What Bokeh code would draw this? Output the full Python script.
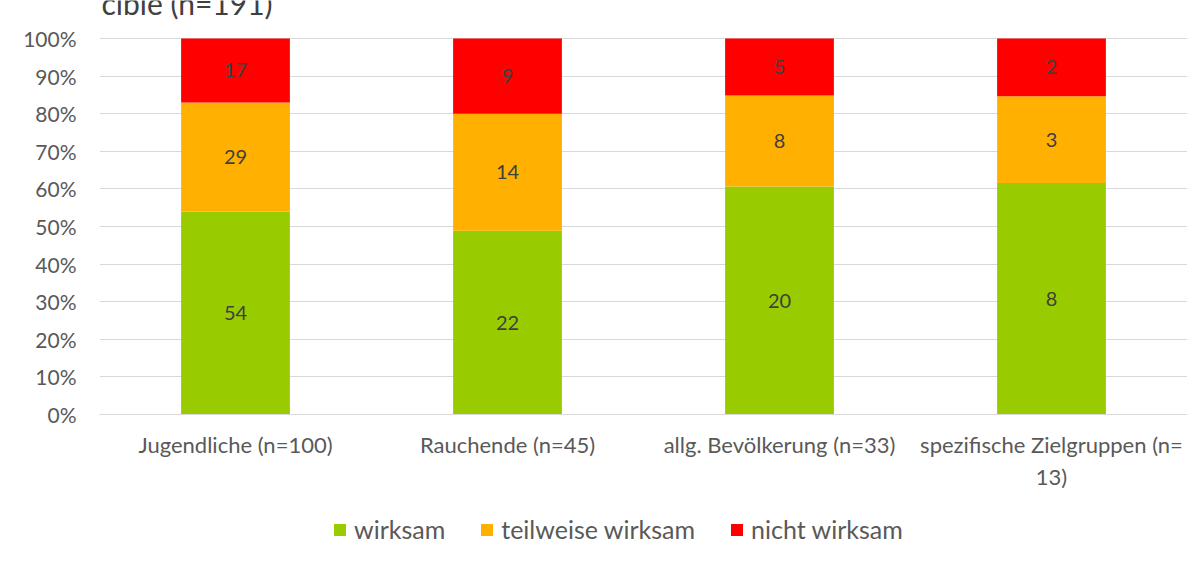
from bokeh.plotting import figure
from bokeh.layouts import column
from bokeh.models import (ColumnDataSource, FactorRange, Range1d, FixedTicker,
                          NumeralTickFormatter, LabelSet, Legend, LegendItem, Label)
from bokeh.core.properties import value
from bokeh.embed import file_html
from bokeh.resources import INLINE

categories = ["Jugendliche (n=100)", "Rauchende (n=45)", "allg. Bevölkerung (n=33)",
              "spezifische Zielgruppen (n=\n13)"]
series = ["wirksam", "teilweise wirksam", "nicht wirksam"]
wirksam = [54, 22, 20, 8]
teilweise = [29, 14, 8, 3]
nicht = [17, 9, 5, 2]
colors = ["#99CC00", "#FFB000", "#FF0000"]
y_ticks = [0, 0.1, 0.2, 0.3, 0.4, 0.5, 0.6, 0.7, 0.8, 0.9, 1.0]
title_text = "cible (n=191)"

FONT = "Lato"
TXT = "#595959"

totals = [a + b + c for a, b, c in zip(wirksam, teilweise, nicht)]
f1 = [a / t for a, t in zip(wirksam, totals)]
f2 = [b / t for b, t in zip(teilweise, totals)]
f3 = [c / t for c, t in zip(nicht, totals)]

src = ColumnDataSource(dict(cat=categories, s1=f1, s2=f2, s3=f3))

# frame spans from canvas top (0) to 414 px; 100% sits 38 px below the top
Y_TOP = 414 / 376

p = figure(width=1187, height=494, output_backend="svg", toolbar_location=None,
           x_range=FactorRange(*categories, range_padding=0), y_range=Range1d(0, Y_TOP),
           min_border_left=99, min_border_right=0, min_border_top=0, min_border_bottom=80)
p.outline_line_color = None

rs = p.vbar_stack(["s1", "s2", "s3"], x="cat", width=0.4, source=src,
                  color=colors, line_color=None)

# data labels
for key, vals, base in [("s1", wirksam, [0]*4), ("s2", teilweise, f1),
                        ("s3", nicht, [a + b for a, b in zip(f1, f2)])]:
    fr = src.data[key]
    mids = [b + f / 2 for b, f in zip(base, fr)]
    ls = ColumnDataSource(dict(cat=categories, y=mids, t=[str(v) for v in vals]))
    p.add_layout(LabelSet(x="cat", y="y", text="t", source=ls, text_align="center",
                          text_baseline="middle", text_color="#404040",
                          text_font=value(FONT), text_font_size="20px"))

p.yaxis.ticker = FixedTicker(ticks=y_ticks)
p.yaxis.formatter = NumeralTickFormatter(format="0%")
p.yaxis.axis_line_color = None
p.yaxis.major_tick_line_color = None
p.yaxis.minor_tick_line_color = None
p.yaxis.major_label_standoff = 17
p.yaxis.major_label_text_font = FONT
p.yaxis.major_label_text_font_size = "21px"
p.yaxis.major_label_text_color = TXT

p.xaxis.axis_line_color = "#D9D9D9"
p.xaxis.major_tick_line_color = None
p.xaxis.minor_tick_line_color = None
p.xaxis.major_label_standoff = 10
p.xaxis.major_label_text_font = FONT
p.xaxis.major_label_text_font_size = "22px"
p.xaxis.major_label_text_color = TXT

p.xgrid.grid_line_color = None
p.ygrid.grid_line_color = "#D9D9D9"
p.ygrid.grid_line_width = 1

p.add_layout(Label(x=0.0, y=(414 - 16) / 376, x_offset=2, y_offset=14, text=title_text,
                   text_align="left", text_baseline="alphabetic", text_font=FONT,
                   text_font_size="30px", text_color="#404040"))

# legend strip below the chart (its frame is aligned with the chart's frame)
lg = figure(width=1187, height=53, output_backend="svg", toolbar_location=None,
            x_axis_type=None, y_axis_type=None, x_range=Range1d(0, 1), y_range=Range1d(0, 1),
            min_border_left=0, min_border_right=0, min_border_top=0, min_border_bottom=0)
lg.outline_line_color = None
lg.grid.grid_line_color = None
# legend proxies: zero-height bars, nothing visible
dummies = [lg.vbar(x=[0.5], top=[0], bottom=[0], width=0.4, color=c, line_color=None)
           for c in colors]
legend = Legend(items=[LegendItem(label=s, renderers=[r]) for s, r in zip(series, dummies)],
                orientation="horizontal", location=(233, 3),
                glyph_width=15, glyph_height=15, label_standoff=7, spacing=34,
                padding=0, margin=0, border_line_color=None, background_fill_alpha=0,
                label_text_font=FONT, label_text_font_size="25px", label_text_color=TXT)
lg.add_layout(legend, "center")

open("out.html", "w").write(file_html(column(p, lg, spacing=0), INLINE))
